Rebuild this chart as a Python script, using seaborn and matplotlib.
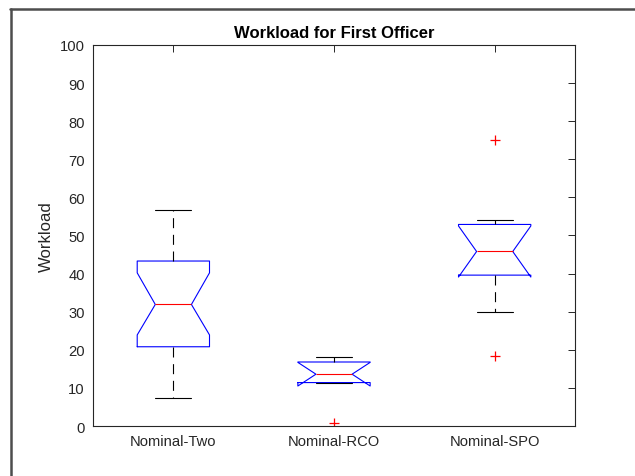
import numpy as np
import pandas as pd
import matplotlib
matplotlib.use("Agg")
import matplotlib.pyplot as plt
from matplotlib.lines import Line2D
import seaborn as sns

# values (MATLAB-style notched boxplot)
groups = ["Nominal-Two", "Nominal-RCO", "Nominal-SPO"]
q1 = [20.8, 11.4, 39.6]
medians = [31.9, 13.6, 45.8]
q3 = [43.3, 16.8, 52.9]
whisker_low = [7.3, 11.4, 30.0]
whisker_high = [56.6, 18.2, 54.1]
notch_low = [23.9, 10.5, 39.1]
notch_high = [40.2, 16.7, 52.5]
outlier_group = [2, 3, 3]
outlier_value = [0.8, 75.1, 18.3]

sns.set_style("white")
plt.rcParams["font.family"] = ["Liberation Sans", "DejaVu Sans"]
plt.rcParams["lines.scale_dashes"] = False

dark = "#262626"

fig = plt.figure(figsize=(6.35, 4.77), dpi=100)
ax = fig.add_axes([0.1465, 0.1048, 0.759, 0.7988])

stats = []
for i, name in enumerate(groups):
    stats.append({
        "label": name,
        "q1": q1[i], "med": medians[i], "q3": q3[i],
        "whislo": whisker_low[i], "whishi": whisker_high[i],
        "cilo": notch_low[i], "cihi": notch_high[i],
        "fliers": [],
    })

ax.bxp(stats, positions=[1, 2, 3], widths=0.45, shownotches=True,
       showfliers=False,
       boxprops=dict(color="blue", linewidth=0.8),
       medianprops=dict(color="red", linewidth=0.8),
       whiskerprops=dict(color="black", linewidth=0.8, linestyle=(0, (7.2, 4.8))),
       capprops=dict(color="black", linewidth=0.8))

outliers = pd.DataFrame({"group": outlier_group, "value": outlier_value})
sns.scatterplot(data=outliers, x="group", y="value", marker="+", color="red",
                s=45, linewidth=0.9, ax=ax, legend=False)

ax.set_xlim(0.5, 3.5)
ax.set_ylim(0, 100)
ax.set_yticks(np.arange(0, 101, 10))
ax.set_xticks([1, 2, 3])
ax.set_xticklabels(groups)
ax.set_xlabel("")
ax.set_ylabel("Workload", fontsize=12, color=dark)
ax.yaxis.set_label_coords(-0.081, 0.5)
ax.set_title("Workload for First Officer", fontsize=12, fontweight="bold",
             color="black", pad=6)
ax.tick_params(direction="in", top=True, right=True, length=5, width=0.7,
               labelsize=10.6, colors=dark, pad=6)
for s in ax.spines.values():
    s.set_visible(True)
    s.set_color(dark)
    s.set_linewidth(0.8)

# window frame edge visible in the reference screenshot
fig.add_artist(Line2D([10 / 635, 1], [1 - 10 / 477, 1 - 10 / 477],
                      color="#4d4d4d", linewidth=1.8, transform=fig.transFigure))
fig.add_artist(Line2D([11 / 635, 11 / 635], [0, 1 - 10 / 477],
                      color="#4d4d4d", linewidth=1.8, transform=fig.transFigure))

fig.savefig("out.png", dpi=100)
